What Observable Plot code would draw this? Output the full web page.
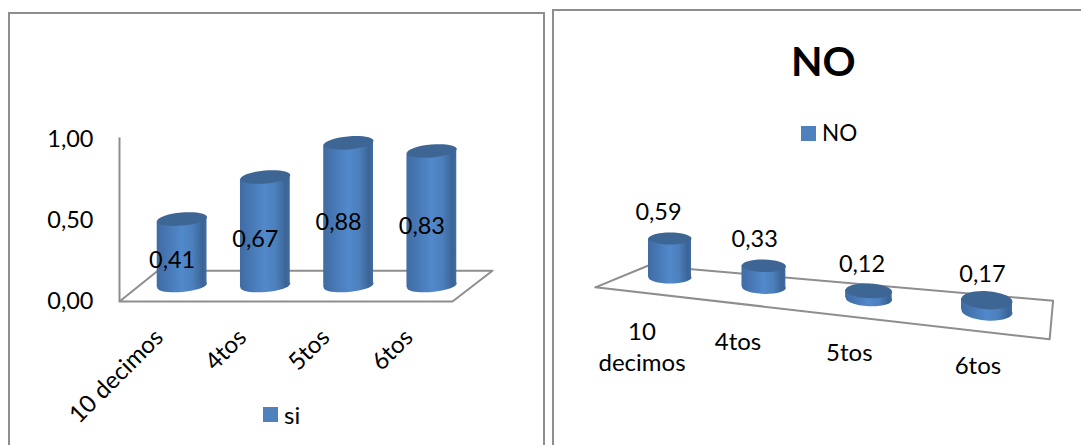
<!DOCTYPE html>
<html>
<head>
<meta charset="utf-8">
<script src="https://cdn.jsdelivr.net/npm/d3@7"></script>
<script src="https://cdn.jsdelivr.net/npm/@observablehq/plot@0.6"></script>
<style>
  html, body { margin: 0; padding: 0; background: #fff; overflow: hidden; }
  #page { position: relative; width: 1081px; height: 445px; font-family: Lato, sans-serif; color: #000; }
  .panel { position: absolute; box-sizing: border-box; border-style: solid; border-color: #8e8e8e; border-width: 2px 0 0 2px; }
  .plot { position: absolute; top: 0; }
  .swatch { position: absolute; width: 15px; height: 15px; background: #4f81bd; }
  .txt { position: absolute; line-height: 1; white-space: nowrap; }
</style>
</head>
<body>
<div id="page">
  <div class="panel" style="left:8px;top:12px;width:537px;height:433px;border-right-width:2px"></div>
  <div class="panel" style="left:552px;top:9px;width:529px;height:436px"></div>
  <div id="left" class="plot" style="left:0"></div>
  <div id="right" class="plot" style="left:545px"></div>
  <div class="swatch" style="left:263px;top:407px"></div>
  <div class="txt" style="left:284px;top:403px;font-size:24px">si</div>
  <div class="txt" style="left:791px;top:40px;font-size:41px;font-weight:700">NO</div>
  <div class="swatch" style="left:801px;top:126px"></div>
  <div class="txt" style="left:822px;top:122px;font-size:22.5px">NO</div>
</div>
<script>
const categories = ["10 decimos", "4tos", "5tos", "6tos"];
const siValues = [0.41, 0.67, 0.88, 0.83];
const noValues = [0.59, 0.33, 0.12, 0.17];
const valueTicks = [0, 0.5, 1];

const comma = d => d.toFixed(2).replace(".", ",");
const FS = 23.5, CAT_FS = 24, GRID = "#8e8e8e", CAP = "#3d6695";

const ellipse = (rx, ry) => ({
  draw(c) {
    const k = 0.5523;
    c.moveTo(rx, 0);
    c.bezierCurveTo(rx, k * ry, k * rx, ry, 0, ry);
    c.bezierCurveTo(-k * rx, ry, -rx, k * ry, -rx, 0);
    c.bezierCurveTo(-rx, -k * ry, -k * rx, -ry, 0, -ry);
    c.bezierCurveTo(k * rx, -ry, rx, -k * ry, rx, 0);
    c.closePath();
  }
});

const shading = () => {
  const defs = d3.create("svg:defs");
  const g = defs.append("linearGradient").attr("id", "cyl").attr("x1", 0).attr("x2", 1).attr("y1", 0).attr("y2", 0);
  [[0, "#3f6ca2"], [0.12, "#4472ad"], [0.5, "#5189cb"], [0.72, "#4c7fbc"], [0.92, "#3b6496"], [1, "#426da1"]]
    .forEach(([o, c]) => g.append("stop").attr("offset", o).attr("stop-color", c));
  return defs.node();
};

/* A cylinder side: two end points with the base and top rings' tilt applied. */
const side = (cx, halfX, base, top, lift) => [
  {x: cx - halfX, y1: base - lift, y2: top - lift},
  {x: cx + halfX, y1: base + lift, y2: top + lift}
];

/* ---------- left chart ---------- */
const siRows = categories.map((category, i) => ({category, i, value: siValues[i]}));
const floorSi = {x: [0, 4, 4.48, 0.46, 0], y: [0, 0, 0.19, 0.19, 0]};
const dxSi = 21, dySi = -16;
const siTilt = -5, siRx = 25, siRy = 6.5;
const siLift = siRx * Math.sin(-siTilt * Math.PI / 180) / 162;
const siHalf = siRx * Math.cos(siTilt * Math.PI / 180) / 83.25;

document.getElementById("left").append(Plot.plot({
  width: 545, height: 445,
  marginLeft: 119, marginRight: 93, marginTop: 139, marginBottom: 144,
  style: {fontFamily: "Lato, sans-serif", background: "transparent", color: "#000"},
  x: {domain: [0, 4], axis: null},
  y: {domain: [0, 1]},
  marks: [
    shading,
    Plot.line(floorSi.x, {x: d => d, y: (d, i) => floorSi.y[i], stroke: GRID, strokeWidth: 2, curve: "linear"}),
    Plot.ruleX([0], {y1: 0, y2: 1.01, stroke: GRID, strokeWidth: 2}),
    Plot.axisY({ticks: valueTicks, tickFormat: comma, tickSize: 0, tickPadding: 26, label: null, fontSize: FS}),
    ...siRows.map(r => Plot.area(side(r.i + 0.5, siHalf, 0, r.value, siLift), {x1: "x", y1: "y1", y2: "y2", dx: dxSi, dy: dySi, fill: "url(#cyl)", curve: "linear"})),
    Plot.dot(siRows, {x: d => d.i + 0.5, y: 0, dx: dxSi, dy: dySi, symbol: ellipse(siRx, siRy), rotate: siTilt, fill: "url(#cyl)", stroke: "none"}),
    Plot.dot(siRows, {x: d => d.i + 0.5, y: "value", dx: dxSi, dy: dySi, symbol: ellipse(siRx, siRy), rotate: siTilt, fill: CAP, stroke: "none"}),
    Plot.text(siRows, {x: d => d.i + 0.5, y: d => d.value / 2, text: d => comma(d.value), dx: 11, dy: -8, fontSize: FS, fill: "#000"}),
    Plot.text(siRows, {x: d => d.i + 0.5, y: 0, text: "category", rotate: -45, textAnchor: "end", dx: -2, dy: 32, fontSize: CAT_FS, fill: "#000"})
  ]
}));

/* ---------- right chart: the floor recedes in perspective ---------- */
const persp = i => 1 / (19 - i);
const drop = i => 0.515 * (persp(i) - persp(0)) / (persp(3) - persp(0));
const noRows = categories.map((category, i) => ({category, i, value: noValues[i], rx: (43 + 0.9 * i * i) / 2, ry: 6 + i * i / 3}));
const floorI = [-0.877, 3.484, 3.51, -0.245, -0.877];
const floorDepth = [-0.27, -0.32, 0.27, 0.147, -0.27];
const originX = 545;
const pxPerX = 317 / (persp(3) - persp(0));

document.getElementById("right").append(Plot.plot({
  width: 536, height: 445,
  margin: 0,
  style: {fontFamily: "Lato, sans-serif", background: "transparent", color: "#000"},
  x: {domain: [persp(0), persp(3)], range: [669.5 - originX, 986.5 - originX], axis: null},
  y: {domain: [0, 1], range: [277, 211], axis: null},
  marks: [
    shading,
    Plot.line(floorI, {x: d => persp(d), y: (d, i) => floorDepth[i] - drop(d), stroke: GRID, strokeWidth: 2, curve: "linear"}),
    ...noRows.flatMap(r => {
      const x = persp(r.i), base = -drop(r.i), top = r.value + base, tilt = r.i * 1.3;
      const lift = -r.rx * Math.sin(tilt * Math.PI / 180) / 66;
      const half = r.rx * Math.cos(tilt * Math.PI / 180) / pxPerX;
      return [
        Plot.area(side(x, half, base, top, lift), {x1: "x", y1: "y1", y2: "y2", fill: "url(#cyl)", curve: "linear"}),
        Plot.dot([r], {x, y: base, symbol: ellipse(r.rx, r.ry), rotate: tilt, fill: "url(#cyl)", stroke: "none"}),
        Plot.dot([r], {x, y: top, symbol: ellipse(r.rx, r.ry), rotate: tilt, fill: CAP, stroke: "none"}),
        Plot.text([r], {x, y: top, text: d => comma(d.value), dx: -11.5 + 2.3 * r.i, dy: -26, fontSize: FS, fill: "#000"}),
        Plot.text([r], {x, y: base, text: "category", lineWidth: 4, lineHeight: 1.27, lineAnchor: "top", dx: -28 + 2.1 * r.i * r.i, dy: 41, fontSize: CAT_FS, fill: "#000"})
      ];
    })
  ]
}));
</script>
</body>
</html>
